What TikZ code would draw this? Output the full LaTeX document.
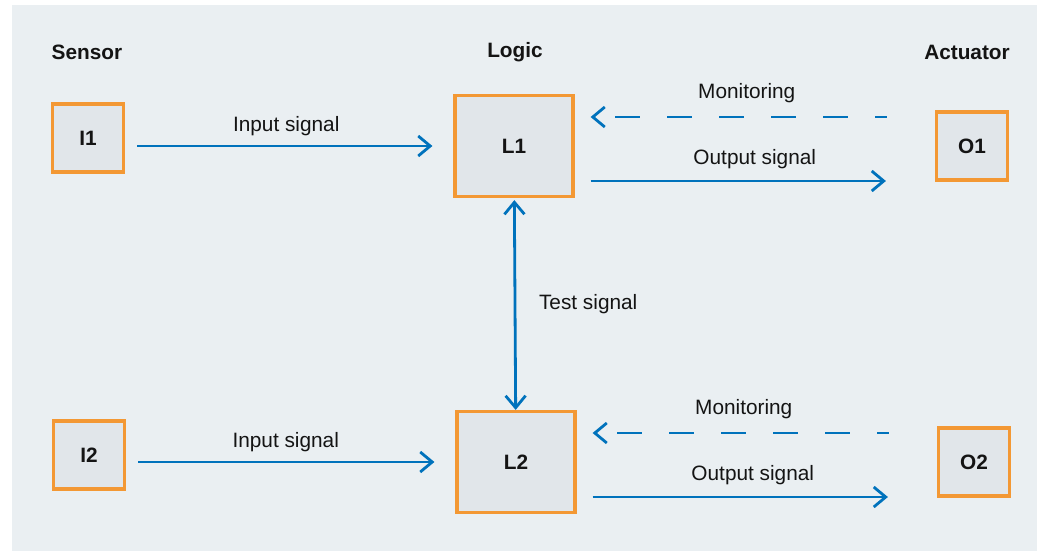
\documentclass[tikz,border=0pt]{standalone}
\usepackage{fontspec}
\setmainfont{Liberation Sans}
\usetikzlibrary{positioning, arrows.meta, calc}
\definecolor{paper}{RGB}{234,239,242}
\definecolor{boxfill}{RGB}{225,230,234}
\definecolor{amber}{RGB}{243,152,52}
\definecolor{wire}{RGB}{0,114,188}
\definecolor{ink}{RGB}{20,20,20}

\begin{document}
\begin{tikzpicture}[x=0.5pt, y=-0.5pt,
    unit/.style={draw=amber, fill=boxfill, line width=1.6pt, minimum width=35.5pt,
                 minimum height=34pt, inner sep=0pt, font=\fontsize{10.4}{12}\selectfont\bfseries, text=ink},
    logic/.style={unit, minimum width=59pt, minimum height=50.5pt},
    head/.style={font=\fontsize{10.4}{12}\selectfont\bfseries, text=ink},
    lbl/.style={font=\fontsize{10.4}{12}\selectfont, text=ink},
    arr/.style={-{Straight Barb[length=6pt, width=10pt]}, draw=wire, line width=1.4pt},
    both/.style={arr, {Straight Barb[length=6pt, width=10pt]}-{Straight Barb[length=6pt, width=10pt]}},
    mon/.style={arr, dash pattern=on 12.5pt off 13.5pt, dash phase=6.5pt}
  ]
  \useasboundingbox (0,0) rectangle (1037,551);
  \fill[paper] (12,5) rectangle (1037,551);
  % column heads
  \node[head] (hsen) at (87,52) {Sensor};
  \node[head] (hlog) at (515,52) {Logic};
  \node[head] (hact) at (967,52) {Actuator};
  % channel 1
  \node[unit] (i1) at (88,138) {I1};
  \node[logic] (l1) at (514,146) {L1};
  \node[unit] (o1) at (972,146) {O1};
  % channel 2
  \node[unit] (i2) at (89,455) {I2};
  \node[logic] (l2) at (516,462) {L2};
  \node[unit] (o2) at (974,462) {O2};
  \draw[arr, shorten <=6pt, shorten >=10.5pt] (i1.east |- l1) -- (l1)
    node[lbl, midway, above=1pt, xshift=-1.5pt] {Input signal};
  \draw[mon, shorten <=24pt, shorten >=8pt] ([yshift=14.5pt]o1.west) -- ([yshift=14.5pt]l1.east)
    node[lbl, midway, above=3pt, xshift=-4pt] {Monitoring};
  \draw[arr, shorten <=8pt, shorten >=24.5pt] ([yshift=-17.5pt]l1.east) -- ([yshift=-17.5pt]o1.west)
    node[lbl, midway, above=2pt] {Output signal};
  \draw[both, shorten <=1pt, shorten >=0pt] (l1) -- (l2)
    node[lbl, midway, right=8pt] {Test signal};
  \draw[arr, shorten <=6pt, shorten >=10.5pt] (i2.east |- l2) -- (l2)
    node[lbl, midway, above=1pt, xshift=-2.5pt] {Input signal};
  \draw[mon, shorten <=24pt, shorten >=8pt] ([yshift=14.5pt]o2.west) -- ([yshift=14.5pt]l2.east)
    node[lbl, midway, above=3pt, xshift=-6.5pt] {Monitoring};
  \draw[arr, shorten <=8pt, shorten >=24.5pt] ([yshift=-17.5pt]l2.east) -- ([yshift=-17.5pt]o2.west)
    node[lbl, midway, above=2pt, xshift=-2pt] {Output signal};
\end{tikzpicture}
\end{document}
